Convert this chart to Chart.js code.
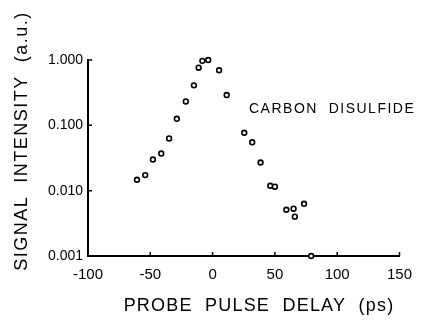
<!DOCTYPE html>
<html>
<head>
<meta charset="utf-8">
<title>Carbon disulfide - probe pulse delay</title>
<script src="https://cdn.jsdelivr.net/npm/chart.js@4/dist/chart.umd.min.js"></script>
<style>
  html, body { margin: 0; padding: 0; background: #fff; }
  #wrap { width: 422px; height: 320px; position: relative; }
</style>
</head>
<body>
<div id="wrap"><canvas id="chart"></canvas></div>
<script>
// probe pulse delay (ps) and signal intensity (a.u.)
const delayPs = [-60.7, -54.1, -47.9, -41.2, -34.9, -28.7, -21.5, -15.0, -11.2, -8.2, -3.5,
  5.2, 11.3, 25.4, 31.8, 38.5, 46.3, 50.0, 59.2, 65.0, 66.0, 73.4, 79.1];
const intensity = [0.0147, 0.0173, 0.030, 0.037, 0.063, 0.126, 0.232, 0.409, 0.763, 0.97, 1.0,
  0.697, 0.291, 0.077, 0.055, 0.027, 0.0119, 0.0115, 0.0051, 0.0053, 0.0040, 0.0063, 0.001];

const xTicks = [-100, -50, 0, 50, 100, 150];
const yTicks = [0.001, 0.01, 0.1, 1];
const yTickLabels = ['0.001', '0.010', '0.100', '1.000'];

const FONT = '"Liberation Sans", Arial, sans-serif';

// inward tick marks + hand-lettered style titles
const extras = {
  id: 'extras',
  afterDraw(chart) {
    const { ctx, scales: { x, y } } = chart;
    ctx.save();
    ctx.strokeStyle = '#000';
    ctx.lineWidth = 1.5;
    ctx.beginPath();
    xTicks.forEach((v) => {
      const px = x.getPixelForValue(v);
      ctx.moveTo(px, y.bottom);
      ctx.lineTo(px, y.bottom - 4);
    });
    yTicks.forEach((v) => {
      const py = y.getPixelForValue(v);
      ctx.moveTo(x.left, py);
      ctx.lineTo(x.left + 4, py);
    });
    ctx.stroke();

    ctx.fillStyle = '#000';
    ctx.textBaseline = 'middle';

    ctx.font = '14px ' + FONT;
    ctx.letterSpacing = '1.5px';
    ctx.textAlign = 'left';
    ctx.fillText('CARBON  DISULFIDE', 249, 109);

    ctx.font = '18px ' + FONT;
    ctx.letterSpacing = '1.2px';
    ctx.textAlign = 'center';
    ctx.fillText('PROBE  PULSE  DELAY  (ps)', 259, 306);

    ctx.letterSpacing = '1.5px';
    ctx.translate(22, 141);
    ctx.rotate(-Math.PI / 2);
    ctx.fillText('SIGNAL  INTENSITY  (a.u.)', 0, 0);
    ctx.restore();
  },
};

new Chart(document.getElementById('chart'), {
  type: 'scatter',
  data: {
    datasets: [{
      data: delayPs.map((d, i) => ({ x: d, y: intensity[i] })),
      pointRadius: 2.4,
      pointBorderWidth: 1.6,
      pointBorderColor: '#000',
      pointBackgroundColor: '#fff',
      clip: false,
    }],
  },
  options: {
    responsive: true,
    maintainAspectRatio: false,
    animation: false,
    layout: { padding: { left: 0, right: 14, top: 60, bottom: 0 } },
    plugins: { legend: { display: false }, tooltip: { enabled: false } },
    scales: {
      x: {
        type: 'linear',
        min: -100,
        max: 150,
        afterBuildTicks: (s) => { s.ticks = xTicks.map((v) => ({ value: v })); },
        afterFit: (s) => { s.height = 64; },
        grid: { drawOnChartArea: false, drawTicks: false },
        border: { display: true, color: '#000', width: 2 },
        ticks: {
          padding: 10,
          color: '#000',
          font: { family: FONT, size: 15 },
          callback: (v) => String(v),
        },
      },
      y: {
        type: 'logarithmic',
        min: 0.001,
        max: 1,
        afterBuildTicks: (s) => { s.ticks = yTicks.map((v) => ({ value: v })); },
        afterFit: (s) => { s.width = 88; },
        grid: { drawOnChartArea: false, drawTicks: false },
        border: { display: true, color: '#000', width: 2 },
        ticks: {
          padding: 5,
          color: '#000',
          font: { family: FONT, size: 14 },
          callback: (v) => yTickLabels[yTicks.indexOf(v)] ?? '',
        },
      },
    },
  },
  plugins: [extras],
});
</script>
</body>
</html>
